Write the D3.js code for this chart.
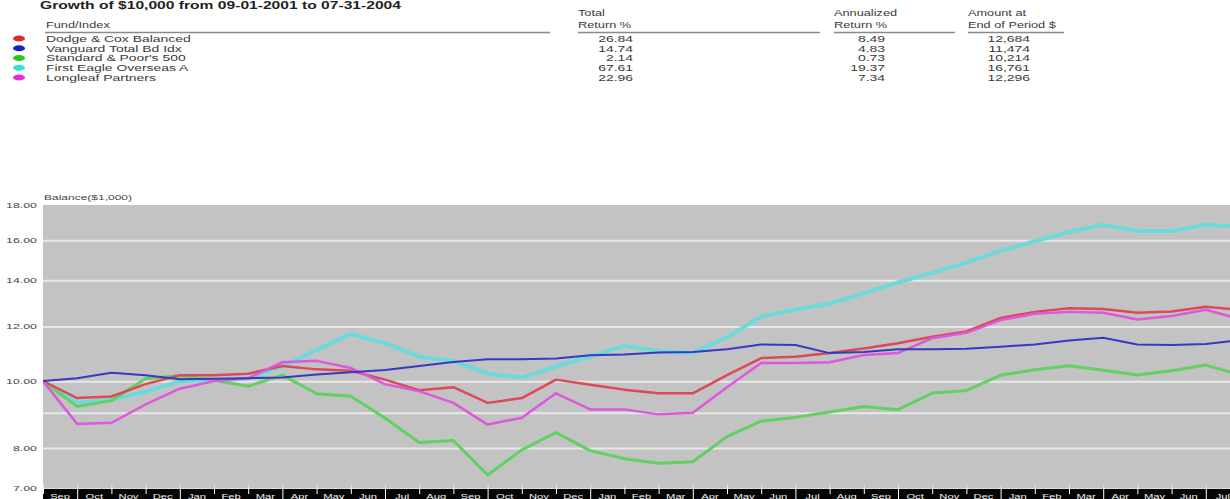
<!DOCTYPE html>
<html><head><meta charset="utf-8">
<script src="https://cdn.jsdelivr.net/npm/d3@7"></script>
<style>
html,body{margin:0;padding:0;background:#fff;overflow:hidden;}
svg{display:block;font-family:"Liberation Sans",Arial,sans-serif;}
</style></head>
<body>
<svg id="chart" width="1230" height="499"></svg>
<script>
const title = "Growth of $10,000 from 09-01-2001 to 07-31-2004";
const funds = ["Dodge & Cox Balanced","Vanguard Total Bd Idx","Standard & Poor's 500","First Eagle Overseas A","Longleaf Partners"];
const totalReturn = ["26.84","14.74","2.14","67.61","22.96"];
const annualized = ["8.49","4.83","0.73","19.37","7.34"];
const amountEnd = ["12,684","11,474","10,214","16,761","12,296"];
const legendColors = ["#e02828","#1c1cc8","#22c822","#30e0e0","#dc30dc"];
const lineColors = ["#dc4a58","#3838c0","#62d062","#6cdada","#dc58dc"];
const months = ["Sep","Oct","Nov","Dec","Jan","Feb","Mar","Apr","May","Jun","Jul","Aug",
                "Sep","Oct","Nov","Dec","Jan","Feb","Mar","Apr","May","Jun","Jul","Aug",
                "Sep","Oct","Nov","Dec","Jan","Feb","Mar","Apr","May","Jun","Jul"];
const yTickLabels = [18,16,14,12,10,8,7];
const gridValues = [16,14,12,10,9,8];
// values in $1,000 at start (09-01-2001) and each month end
const dodgeCox = [10.00,9.45,9.50,9.90,10.20,10.20,10.25,10.52,10.40,10.35,10.05,9.70,9.80,9.30,9.45,10.05,9.88,9.72,9.60,9.60,10.20,10.80,10.85,10.98,11.15,11.35,11.60,11.80,12.35,12.60,12.75,12.72,12.56,12.62,12.82,12.68];
const vanguardBond = [10.00,10.10,10.28,10.20,10.06,10.08,10.10,10.12,10.22,10.30,10.38,10.52,10.66,10.76,10.76,10.78,10.90,10.93,11.00,11.02,11.12,11.30,11.28,10.98,11.02,11.12,11.12,11.14,11.22,11.30,11.45,11.56,11.30,11.28,11.32,11.47];
const sp500 = [10.00,9.19,9.37,10.09,10.18,10.03,9.83,10.20,9.59,9.51,8.84,8.15,8.20,7.31,7.95,8.42,7.93,7.72,7.60,7.64,8.31,8.75,8.86,9.02,9.19,9.09,9.61,9.69,10.20,10.39,10.53,10.37,10.21,10.35,10.55,10.21];
const firstEagle = [10.00,9.30,9.40,9.65,10.00,10.02,10.10,10.50,11.10,11.70,11.35,10.85,10.70,10.25,10.12,10.50,10.85,11.25,11.05,10.98,11.58,12.40,12.70,12.95,13.40,13.90,14.35,14.85,15.45,15.95,16.45,16.85,16.50,16.50,16.85,16.76];
const longleaf = [10.00,8.67,8.70,9.25,9.75,10.00,10.10,10.65,10.70,10.45,9.90,9.67,9.30,8.65,8.85,9.60,9.10,9.10,8.95,9.00,9.80,10.62,10.62,10.65,10.91,10.98,11.54,11.75,12.26,12.52,12.60,12.56,12.28,12.43,12.69,12.30];
const seriesValues = [dodgeCox, vanguardBond, sp500, firstEagle, longleaf];
const drawOrder = [3,2,0,4,1];
const lineWidths = [2.5,2,3,4,2.5];

const svg = d3.select("#chart");
const textCol = "#3a3a3a";

// horizontal stretch of text (reference glyphs are wide)
function stretch(sel, sx){
  sel.each(function(){
    const t = d3.select(this);
    const x = +t.attr("x") || 0, y = +t.attr("y") || 0;
    const prev = t.attr("transform") || "";
    t.attr("x",0).attr("y",0).attr("transform", `${prev} translate(${x},${y}) scale(${sx},1)`);
  });
}

// Title
svg.append("text").attr("x",40).attr("y",9).attr("font-size",11).attr("font-weight","bold")
  .attr("fill","#222").text(title).call(stretch,1.42);

// Table headers
const hdr = svg.append("g").attr("font-size",8.5).attr("fill",textCol);
hdr.append("text").attr("x",46).attr("y",28).text("Fund/Index");
hdr.append("text").attr("x",578).attr("y",16).text("Total");
hdr.append("text").attr("x",578).attr("y",28).text("Return %");
hdr.append("text").attr("x",834).attr("y",16).text("Annualized");
hdr.append("text").attr("x",834).attr("y",28).text("Return %");
hdr.append("text").attr("x",968).attr("y",16).text("Amount at");
hdr.append("text").attr("x",968).attr("y",28).text("End of Period $");
hdr.selectAll("text").call(stretch,1.5);
[[45,550],[578,820],[834,955],[968,1064]].forEach(([a,b])=>{
  svg.append("line").attr("x1",a).attr("x2",b).attr("y1",32.5).attr("y2",32.5)
    .attr("stroke","#8a8a8a").attr("stroke-width",1.6);
});

const rowY = d3.scaleLinear().domain([0,4]).range([38.5,77.5]);
funds.forEach((f,i)=>{
  const cy = rowY(i);
  svg.append("ellipse").attr("cx",19).attr("cy",cy).attr("rx",6).attr("ry",3)
    .attr("fill",legendColors[i]);
  const g = svg.append("g").attr("font-size",9).attr("fill",textCol);
  g.append("text").attr("x",46).attr("y",cy+3.3).text(f);
  g.append("text").attr("x",633).attr("y",cy+3.3).attr("text-anchor","end").text(totalReturn[i]);
  g.append("text").attr("x",885).attr("y",cy+3.3).attr("text-anchor","end").text(annualized[i]);
  g.append("text").attr("x",1030).attr("y",cy+3.3).attr("text-anchor","end").text(amountEnd[i]);
  g.selectAll("text").call(stretch,1.55);
});

// Chart
const pLeft = 43, pRight = 1240, pTop = 205, pBottom = 488;
const x = d3.scaleLinear().domain([0, months.length]).range([pLeft, pRight]);
const band = d3.scaleBand().domain(months.map((m,i)=>i)).range([pLeft,pRight]).padding(0);
const y = d3.scaleLog().domain([7,18]).range([pBottom, pTop]);

svg.append("rect").attr("x",pLeft).attr("y",pTop).attr("width",pRight-pLeft).attr("height",pBottom-pTop)
  .attr("fill","#c3c3c3");

// gridlines
const grid = svg.append("g").attr("transform",`translate(${pLeft},0)`)
  .call(d3.axisLeft(y).tickValues(gridValues).tickSize(-(pRight-pLeft)).tickFormat(""));
grid.select(".domain").remove();
grid.selectAll("line").attr("stroke","#e8e8e8").attr("stroke-width",2);

// y labels
const yAx = svg.append("g").attr("transform",`translate(${pLeft-3},0)`)
  .call(d3.axisLeft(y).tickValues(yTickLabels).tickSize(0).tickFormat(d3.format(".2f")));
yAx.select(".domain").remove();
yAx.selectAll("text").attr("font-size",7.5).attr("fill","#444")
  .attr("font-family","'Liberation Sans',Arial,sans-serif").attr("dy","0.32em")
  .call(stretch,1.65);

svg.append("text").attr("x",44).attr("y",200).attr("font-size",7.5).attr("fill","#444")
  .text("Balance($1,000)").call(stretch,1.6);

// x-axis band
svg.append("rect").attr("x",pLeft).attr("y",pBottom).attr("width",pRight-pLeft).attr("height",20).attr("fill","#050505");
const minor = svg.append("g").attr("transform",`translate(0,${pBottom})`)
  .call(d3.axisTop(x).tickValues(d3.range(0, months.length+1)).tickSize(3).tickFormat(""));
minor.select(".domain").attr("stroke","#dcdcdc").attr("stroke-width",1);
minor.selectAll("line").attr("stroke","#e8e8e8");
const bTicks = svg.append("g").attr("transform",`translate(0,${pBottom})`)
  .call(d3.axisBottom(x).tickValues(d3.range(0, months.length+1)).tickSize(8).tickFormat(""));
bTicks.select(".domain").remove();
bTicks.selectAll("line").attr("stroke","#ffffff").attr("stroke-width",1)
  .attr("y2",d=> (d%3===1) ? 11 : 6);
const xAx = svg.append("g").attr("transform",`translate(0,${pBottom})`)
  .call(d3.axisBottom(band).tickSize(0).tickFormat(i=>months[i]));
xAx.select(".domain").remove();
xAx.selectAll("text").attr("font-size",8).attr("fill","#f2f2f2").attr("dy",0).attr("y",10.5)
  .attr("font-family","'Liberation Sans',Arial,sans-serif").call(stretch,1.4);

// lines
const line = d3.line().x((d,i)=>x(i)).y(d=>y(d));
svg.append("clipPath").attr("id","pc").append("rect")
  .attr("x",pLeft).attr("y",pTop-3).attr("width",pRight-pLeft).attr("height",pBottom-pTop+3);
const lg = svg.append("g").attr("clip-path","url(#pc)");
drawOrder.forEach(k=>{
  lg.append("path").datum(seriesValues[k]).attr("d",line).attr("fill","none")
    .attr("stroke",lineColors[k]).attr("stroke-width",lineWidths[k])
    .attr("stroke-linejoin","round");
});
</script>
</body></html>
